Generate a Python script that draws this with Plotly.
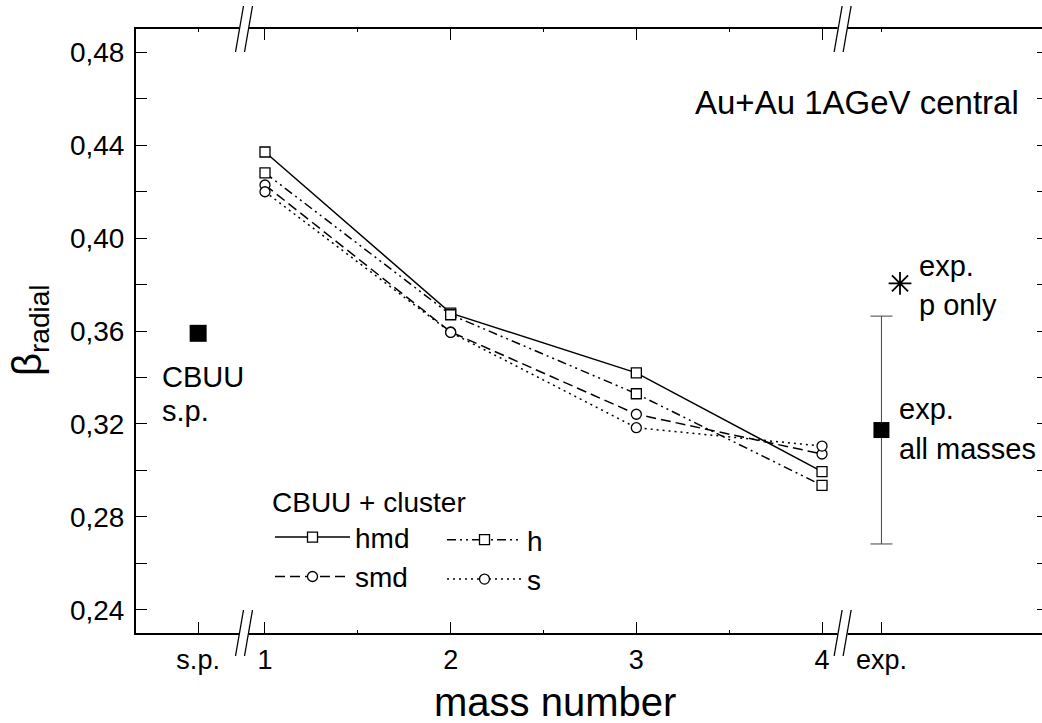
import plotly.graph_objects as go

# ---------------- data ----------------
mass_number = [1, 2, 3, 4]
beta_hmd = [0.437, 0.3677, 0.342, 0.2995]
beta_h = [0.428, 0.367, 0.333, 0.2936]
beta_smd = [0.4228, 0.3596, 0.3242, 0.3071]
beta_s = [0.4199, 0.3594, 0.3184, 0.3105]

cbuu_sp_beta = [0.359]
exp_all_beta = [0.3174]
exp_all_err = [0.049]
exp_p_beta = [0.3805]

x_tick_labels = ["s.p.", "1", "2", "3", "4", "exp."]
y_tick_values = [0.24, 0.28, 0.32, 0.36, 0.40, 0.44, 0.48]
y_tick_labels = ["0,24", "0,28", "0,32", "0,36", "0,40", "0,44", "0,48"]
y_minor_values = [0.26, 0.30, 0.34, 0.38, 0.42, 0.46]

# axis layout (broken axis: s.p. | 1..4 | exp.)
X_SP = 0.64
X_EXP = 4.32
X_P = 4.42
BREAK1 = 0.887
BREAK2 = 4.111
x_tick_pos = [X_SP, 1, 2, 3, 4, X_EXP]

FONT = "Liberation Sans, Arial, Helvetica, sans-serif"
LW = 1.5

fig = go.Figure()

def model_trace(name, y, symbol, dash, legend):
    return go.Scatter(
        x=mass_number, y=y, name=name, mode="lines+markers",
        line=dict(color="black", width=LW, dash=dash),
        marker=dict(symbol=symbol, size=10, color="white",
                    line=dict(color="black", width=1.3)),
        legend=legend, hoverinfo="x+y+name",
    )

fig.add_trace(model_trace("hmd", beta_hmd, "square", "solid", "legend"))
fig.add_trace(model_trace("smd", beta_smd, "circle", "10px,5px", "legend"))
fig.add_trace(model_trace("h", beta_h, "square", "9px,4px,2px,4px,2px,4px", "legend2"))
fig.add_trace(model_trace("s", beta_s, "circle", "2px,4px", "legend2"))

# CBUU single particle
fig.add_trace(go.Scatter(
    x=[X_SP], y=cbuu_sp_beta, mode="markers", xaxis="x2", showlegend=False,
    marker=dict(symbol="square", size=17, color="black"), name="CBUU s.p."))

# experiment, all masses
fig.add_trace(go.Scatter(
    x=[X_EXP], y=exp_all_beta, mode="markers", showlegend=False,
    marker=dict(symbol="square", size=16, color="black"),
    error_y=dict(type="data", array=exp_all_err, visible=True,
                 color="#444444", thickness=1, width=11),
    name="exp. all masses"))

# experiment, protons only
fig.add_trace(go.Scatter(
    x=[X_P], y=exp_p_beta, mode="markers", yaxis="y2", showlegend=False,
    marker=dict(symbol="asterisk-open", size=19, color="black",
                line=dict(color="black", width=1.8)),
    name="exp. p only"))

W, H = 1042, 723
L, R, T, B = 136, 0, 29, 90
PW, PH = W - L - R, H - T - B

def px(X):
    return (X - L) / PW

def py(Y):
    return (H - B - Y) / PH

ann = []
def text(s, X, Y, size=29, xanchor="left", **kw):
    ann.append(dict(text=s, x=px(X), y=py(Y), xref="paper", yref="paper",
                    xanchor=xanchor, yanchor="middle", showarrow=False,
                    font=dict(family=FONT, size=size, color="black"), **kw))

text("Au+Au 1AGeV central", 1021, 103, size=33, xanchor="right")
text("CBUU", 160, 377)
text("s.p.", 160, 411)
text("exp.", 917, 266)
text("p only", 917, 305)
text("exp.", 897, 409)
text("all masses", 897, 449)
text("mass number", 555, 702, size=40, xanchor="center")
ann.append(dict(text="β<sub>radial</sub>", x=px(30), y=py(330), xref="paper", yref="paper",
                xanchor="center", yanchor="middle", showarrow=False, textangle=-90,
                font=dict(family=FONT, size=40, color="black")))

# axis break marks
shapes = []
for xb in (BREAK1, BREAK2):
    for ya in (0, 1):
        shapes.append(dict(type="line", xref="x", yref="paper", layer="above",
                           xsizemode="pixel", ysizemode="pixel", xanchor=xb, yanchor=ya,
                           x0=-5, x1=5, y0=0, y1=0, line=dict(color="white", width=5)))
        for off in (-4.5, 4.5):
            shapes.append(dict(type="line", xref="x", yref="paper", layer="above",
                               xsizemode="pixel", ysizemode="pixel", xanchor=xb, yanchor=ya,
                               x0=off - 4, x1=off + 4, y0=-23, y1=23,
                               line=dict(color="black", width=1.3)))

xrange = [1 - (265 - L) / 185.7, 4 + (W - R - 822) / 185.7]
yrange = [0.2301, 0.4899]

fig.update_layout(
    width=W, height=H,
    margin=dict(l=L, r=R, t=T, b=B, pad=0),
    paper_bgcolor="white", plot_bgcolor="white",
    font=dict(family=FONT, size=27, color="black"),
    showlegend=True,
    xaxis=dict(range=xrange, tickvals=x_tick_pos, ticktext=x_tick_labels,
               ticks="inside", ticklen=11, tickwidth=1.3, tickcolor="black",
               showline=True, linewidth=2, linecolor="black", showgrid=False, zeroline=False,
               tickfont=dict(size=27), ticklabelstandoff=2,
               minor=dict(tickvals=[1.5, 2.5, 3.5], ticks="inside", ticklen=3,
                          tickcolor="black", showgrid=False)),
    xaxis2=dict(overlaying="x", matches="x", side="top", anchor="y",
                tickvals=[1, 2, 3, 4], showticklabels=False,
                ticks="inside", ticklen=11, tickwidth=1.3, tickcolor="black",
                showline=True, linewidth=2, linecolor="black", showgrid=False, zeroline=False,
                minor=dict(tickvals=[X_SP, 1.5, 2.5, 3.5, X_EXP], ticks="inside", ticklen=3,
                           tickcolor="black", showgrid=False)),
    yaxis=dict(range=yrange, tickvals=y_tick_values, ticktext=y_tick_labels,
               ticks="inside", ticklen=11, tickwidth=1.3, tickcolor="black",
               showline=True, linewidth=2, linecolor="black", showgrid=False, zeroline=False,
               tickfont=dict(size=28), ticklabelstandoff=4,
               minor=dict(tickvals=y_minor_values, ticks="inside", ticklen=11,
                          tickwidth=1.3, tickcolor="black", showgrid=False)),
    yaxis2=dict(overlaying="y", matches="y", side="right", anchor="x",
                tickvals=y_tick_values + y_minor_values, showticklabels=False,
                ticks="inside", ticklen=5, tickwidth=1.3, tickcolor="black",
                showline=False, showgrid=False, zeroline=False),
    legend=dict(x=px(270), y=py(476), xanchor="left", yanchor="top",
                bgcolor="rgba(0,0,0,0)", borderwidth=0, itemwidth=75,
                title=dict(text="CBUU + cluster", font=dict(size=28)),
                font=dict(size=28), tracegroupgap=0, itemclick=False),
    legend2=dict(x=px(442), y=py(515), xanchor="left", yanchor="top",
                 bgcolor="rgba(0,0,0,0)", borderwidth=0, itemwidth=75,
                 font=dict(size=28), tracegroupgap=0, itemclick=False),
    annotations=ann,
    shapes=shapes,
)

fig.write_html("out.html")
